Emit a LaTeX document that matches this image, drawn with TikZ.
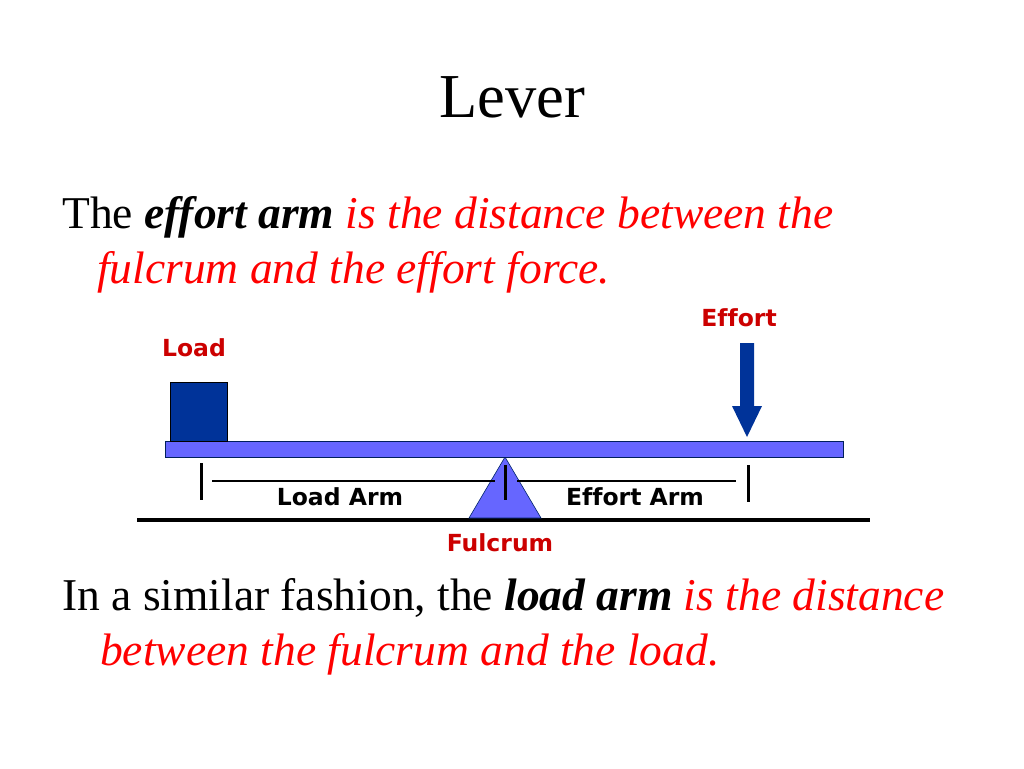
\documentclass[tikz,border=0pt]{standalone}
\usepackage{fontspec}
\setmainfont{Liberation Serif}
\newfontfamily\djsans[Ligatures=NoCommon]{DejaVu Sans}
\definecolor{navy}{HTML}{003399}
\definecolor{barblue}{HTML}{6666FF}
\definecolor{labred}{HTML}{CC0000}
\begin{document}
\begin{tikzpicture}[x=1pt,y=-1pt,
  body/.style={anchor=base west,inner sep=0pt,font=\fontsize{45.5}{54.6}\selectfont},
  lab/.style={inner sep=0pt,font=\djsans\bfseries\fontsize{23.5}{27}\selectfont},
  redlab/.style={lab,text=labred},
  tick/.style={line width=3pt},
  armline/.style={line width=1.2pt}]
\useasboundingbox (0,0) rectangle (1024,768);
\fill[white] (0,0) rectangle (1024,768);
% title
\node[anchor=base,inner sep=0pt,font=\fontsize{62.5}{70}\selectfont] (title) at (512,117) {Lever};
% body text
\node[body] (l1) at (62,228) {The \textbf{\textit{effort arm}} \textcolor{red}{\textit{is the distance between the}}};
\node[body,text=red] (l2) at (97,283) {\textit{fulcrum and the effort force.}};
\node[body] (l3) at (62,610) {In a similar fashion, the \textbf{\textit{load arm}} \textcolor{red}{\textit{is the distance}}};
\node[body,text=red] (l4) at (100,665) {\textit{between the fulcrum and the load.}};
% ground
\draw[line width=4pt] (137,520) coordinate (g1) -- (870,520) coordinate (g2);
% fulcrum
\filldraw[fill=barblue,draw=navy!70!black,line width=0.6pt] (505,457) coordinate (apex) -- (541,518) -- (469,518) -- cycle;
% bar
\filldraw[fill=barblue,draw=navy!60!black,line width=0.8pt] (165,441) rectangle (843,457);
% load box
\filldraw[fill=navy,draw=black,line width=0.8pt] (170,382) rectangle (227,441);
% effort arrow
\fill[navy] (740,343) -- (754,343) -- (754,406) -- (762,406) -- (747,437) -- (732,406) -- (740,406) -- cycle;
% ticks
\draw[tick] (201,463) -- (201,500);
\draw[tick] (748,465) -- (748,502);
\draw[tick] (505,465) -- (505,500);
% arm lines
\draw[armline] (212,481) -- (495,481);
\draw[armline] (517,481) -- (736,481);
% labels
\node[redlab] (load) at (194,348) {Load};
\node[redlab] (effort) at (739,318) {Effort};
\node[redlab] (fulcrum) at (500,543) {Fulcrum};
\node[lab] (loadarm) at (340,497) {Load Arm};
\node[lab] (effortarm) at (635,497) {Effort Arm};
\end{tikzpicture}
\end{document}
